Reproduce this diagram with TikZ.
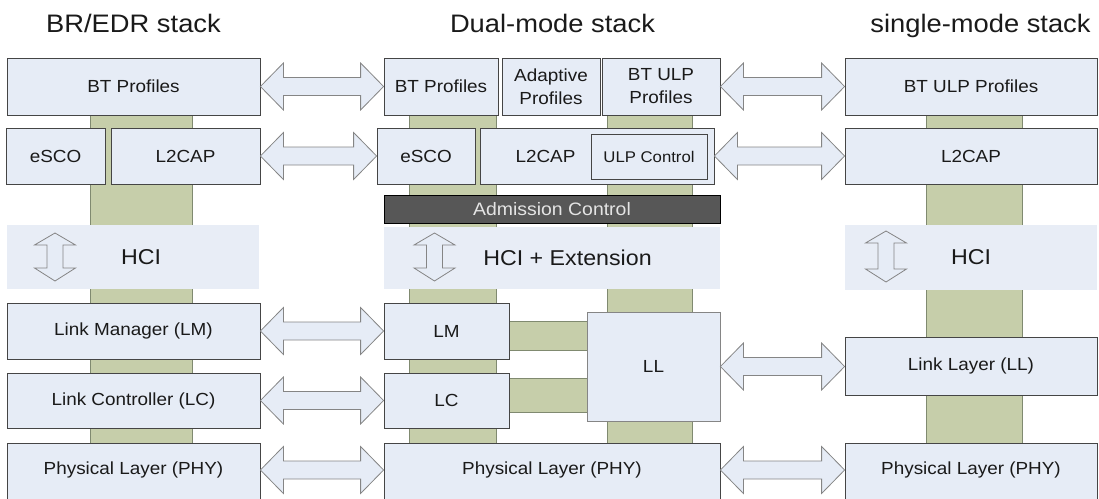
\documentclass[tikz,border=0pt]{standalone}
\usepackage{fontspec}
\setmainfont{Liberation Sans}[FakeStretch=1.08]
\usetikzlibrary{calc}
\definecolor{boxfill}{HTML}{E6ECF6}
\definecolor{bandfill}{HTML}{E8EDF6}
\definecolor{greenbar}{HTML}{C6CEAA}
\definecolor{greenedge}{HTML}{808A70}
\definecolor{boxedge}{HTML}{454545}
\definecolor{arredge}{HTML}{858585}
\definecolor{admfill}{HTML}{575757}
\definecolor{admtext}{HTML}{E4E4E4}
\definecolor{txt}{HTML}{1A1A1A}
\newcommand{\harrow}[2]{\draw[bigarrow] let \p1=(#1), \p2=(#2) in
  (\x1,\y1) -- ++(23pt,23.5pt) -- ++(0,-14.5pt) -- (\x2-23pt,\y1+9pt) -- ++(0,14.5pt)
  -- (\x2,\y1) -- (\x2-23pt,\y1-23.5pt) -- ++(0,14.5pt) -- (\x1+23pt,\y1-9pt)
  -- ++(0,-14.5pt) -- cycle;}
\newcommand{\varrow}[2]{\draw[bigarrow] let \p1=(#1), \p2=(#2) in
  (\x1,\y1) -- (\x1+20.5pt,\y1-12pt) -- (\x1+8pt,\y1-12pt) -- (\x1+8pt,\y2+13pt)
  -- (\x1+20.5pt,\y2+13pt) -- (\x1,\y2) -- (\x1-20.5pt,\y2+13pt) -- (\x1-8pt,\y2+13pt)
  -- (\x1-8pt,\y1-12pt) -- (\x1-20.5pt,\y1-12pt) -- cycle;}
\begin{document}
\begin{tikzpicture}[x=1pt,y=-1pt,
  wh/.style 2 args={minimum width=#1pt, minimum height=#2pt},
  boxfont/.style={font=\fontsize{17.5}{23}\selectfont, text=txt},
  box/.style={draw=boxedge, fill=boxfill, line width=0.8pt, inner sep=0pt, align=center, boxfont},
  band/.style={fill=bandfill, inner sep=0pt},
  hcifont/.style={font=\fontsize{21.5}{24}\selectfont, text=txt},
  bar/.style={draw=greenedge, fill=greenbar, line width=0.8pt},
  bigarrow/.style={draw=arredge, fill=boxfill, line width=0.8pt, line join=miter},
  title/.style={font=\fontsize{25.3}{30}\selectfont, anchor=base, text=txt, inner sep=0pt}]
\useasboundingbox (0,0) rectangle (1099,498);

% titles
\node[title] (t1) at (133.5,32) {BR/EDR stack};
\node[title] (t2) at (552.5,32) {Dual-mode stack};
\node[title] (t3) at (980.5,32) {single-mode stack};

% green bars
\draw[bar] (90,110) rectangle (192,448);
\draw[bar] (409,110) rectangle (496,448);
\draw[bar] (607,110) rectangle (692,448);
\draw[bar] (926,110) rectangle (1022,448);
\draw[bar] (505,321) rectangle (590,350);
\draw[bar] (505,378) rectangle (590,412);

% BR/EDR stack
\node[box, wh={253}{57}] (bp1) at (133.5,86.5) {BT Profiles};
\node[box, wh={99}{56}] (esco1) at (55.5,156) {eSCO};
\node[box, wh={149}{56}] (l2cap1) at (185.5,156) {L2CAP};
\node[band, wh={252}{64}, label={[hcifont, xshift=8pt]center:HCI}] (hci1) at (133,257) {};
\node[box, wh={253}{56}] (lm1) at (133.5,331) {Link Manager (LM)};
\node[box, wh={253}{55}] (lc1) at (133.5,400.5) {Link Controller (LC)};
\node[box, wh={253}{62}, label={[boxfont, yshift=4pt]center:Physical Layer (PHY)}] (phy1) at (133.5,474) {};

% Dual-mode stack
\node[box, wh={114}{57}] (bp2) at (441,86.5) {BT Profiles};
\node[box, wh={98}{57}] (adapt) at (551,86.5) {Adaptive\\Profiles};
\node[box, wh={118}{57}] (ulp2) at (661,86.5) {BT ULP\\Profiles};
\node[box, wh={98}{56}] (esco2) at (426,156) {eSCO};
\node[box, wh={234}{56}, label={[boxfont, xshift=-51.5pt]center:L2CAP}] (l2cap2) at (597,156) {};
\node[box, wh={116}{45}, font=\fontsize{15.5}{18}\selectfont] (ulpc) at (649,156.5) {ULP Control};
\node[box, wh={336}{28}, fill=admfill, draw=black, text=admtext, font=\fontsize{18}{20}\selectfont] (adm) at (552,209) {Admission Control};
\node[band, wh={336}{62}, label={[hcifont, xshift=15.5pt]center:HCI + Extension}] (hci2) at (552,258) {};
\node[box, wh={125}{56}] (lm2) at (446.5,331) {LM};
\node[box, wh={125}{55}] (lc2) at (446.5,400.5) {LC};
\node[box, wh={133}{109}, draw=arredge] (ll2) at (653.5,366.5) {LL};
\node[box, wh={336}{62}, label={[boxfont, yshift=4pt]center:Physical Layer (PHY)}] (phy2) at (552,474) {};

% single-mode stack
\node[box, wh={252}{57}] (ulp3) at (971,86.5) {BT ULP Profiles};
\node[box, wh={252}{56}] (l2cap3) at (971,156) {L2CAP};
\node[band, wh={252}{65}, label={[hcifont]center:HCI}] (hci3) at (971,257.5) {};
\node[box, wh={252}{58}] (ll3) at (971,366) {Link Layer (LL)};
\node[box, wh={252}{62}, label={[boxfont, yshift=4pt]center:Physical Layer (PHY)}] (phy3) at (971,474) {};

% vertical HCI arrows
\coordinate (v1t) at (55,233); \coordinate (v1b) at (55,281);
\coordinate (v2t) at (434.5,233); \coordinate (v2b) at (434.5,281);
\coordinate (v3t) at (886,231); \coordinate (v3b) at (886,282);
\varrow{v1t}{v1b}
\varrow{v2t}{v2b}
\varrow{v3t}{v3b}

% horizontal double arrows
\harrow{bp1.east}{bp2.west}
\harrow{l2cap1.east}{esco2.west}
\harrow{lm1.east}{lm2.west}
\harrow{lc1.east}{lc2.west}
\harrow{[yshift=4pt]phy1.east}{[yshift=4pt]phy2.west}
\harrow{ulp2.east}{ulp3.west}
\harrow{l2cap2.east}{l2cap3.west}
\harrow{ll2.east}{ll3.west}
\harrow{[yshift=4pt]phy2.east}{[yshift=4pt]phy3.west}
\end{tikzpicture}
\end{document}
